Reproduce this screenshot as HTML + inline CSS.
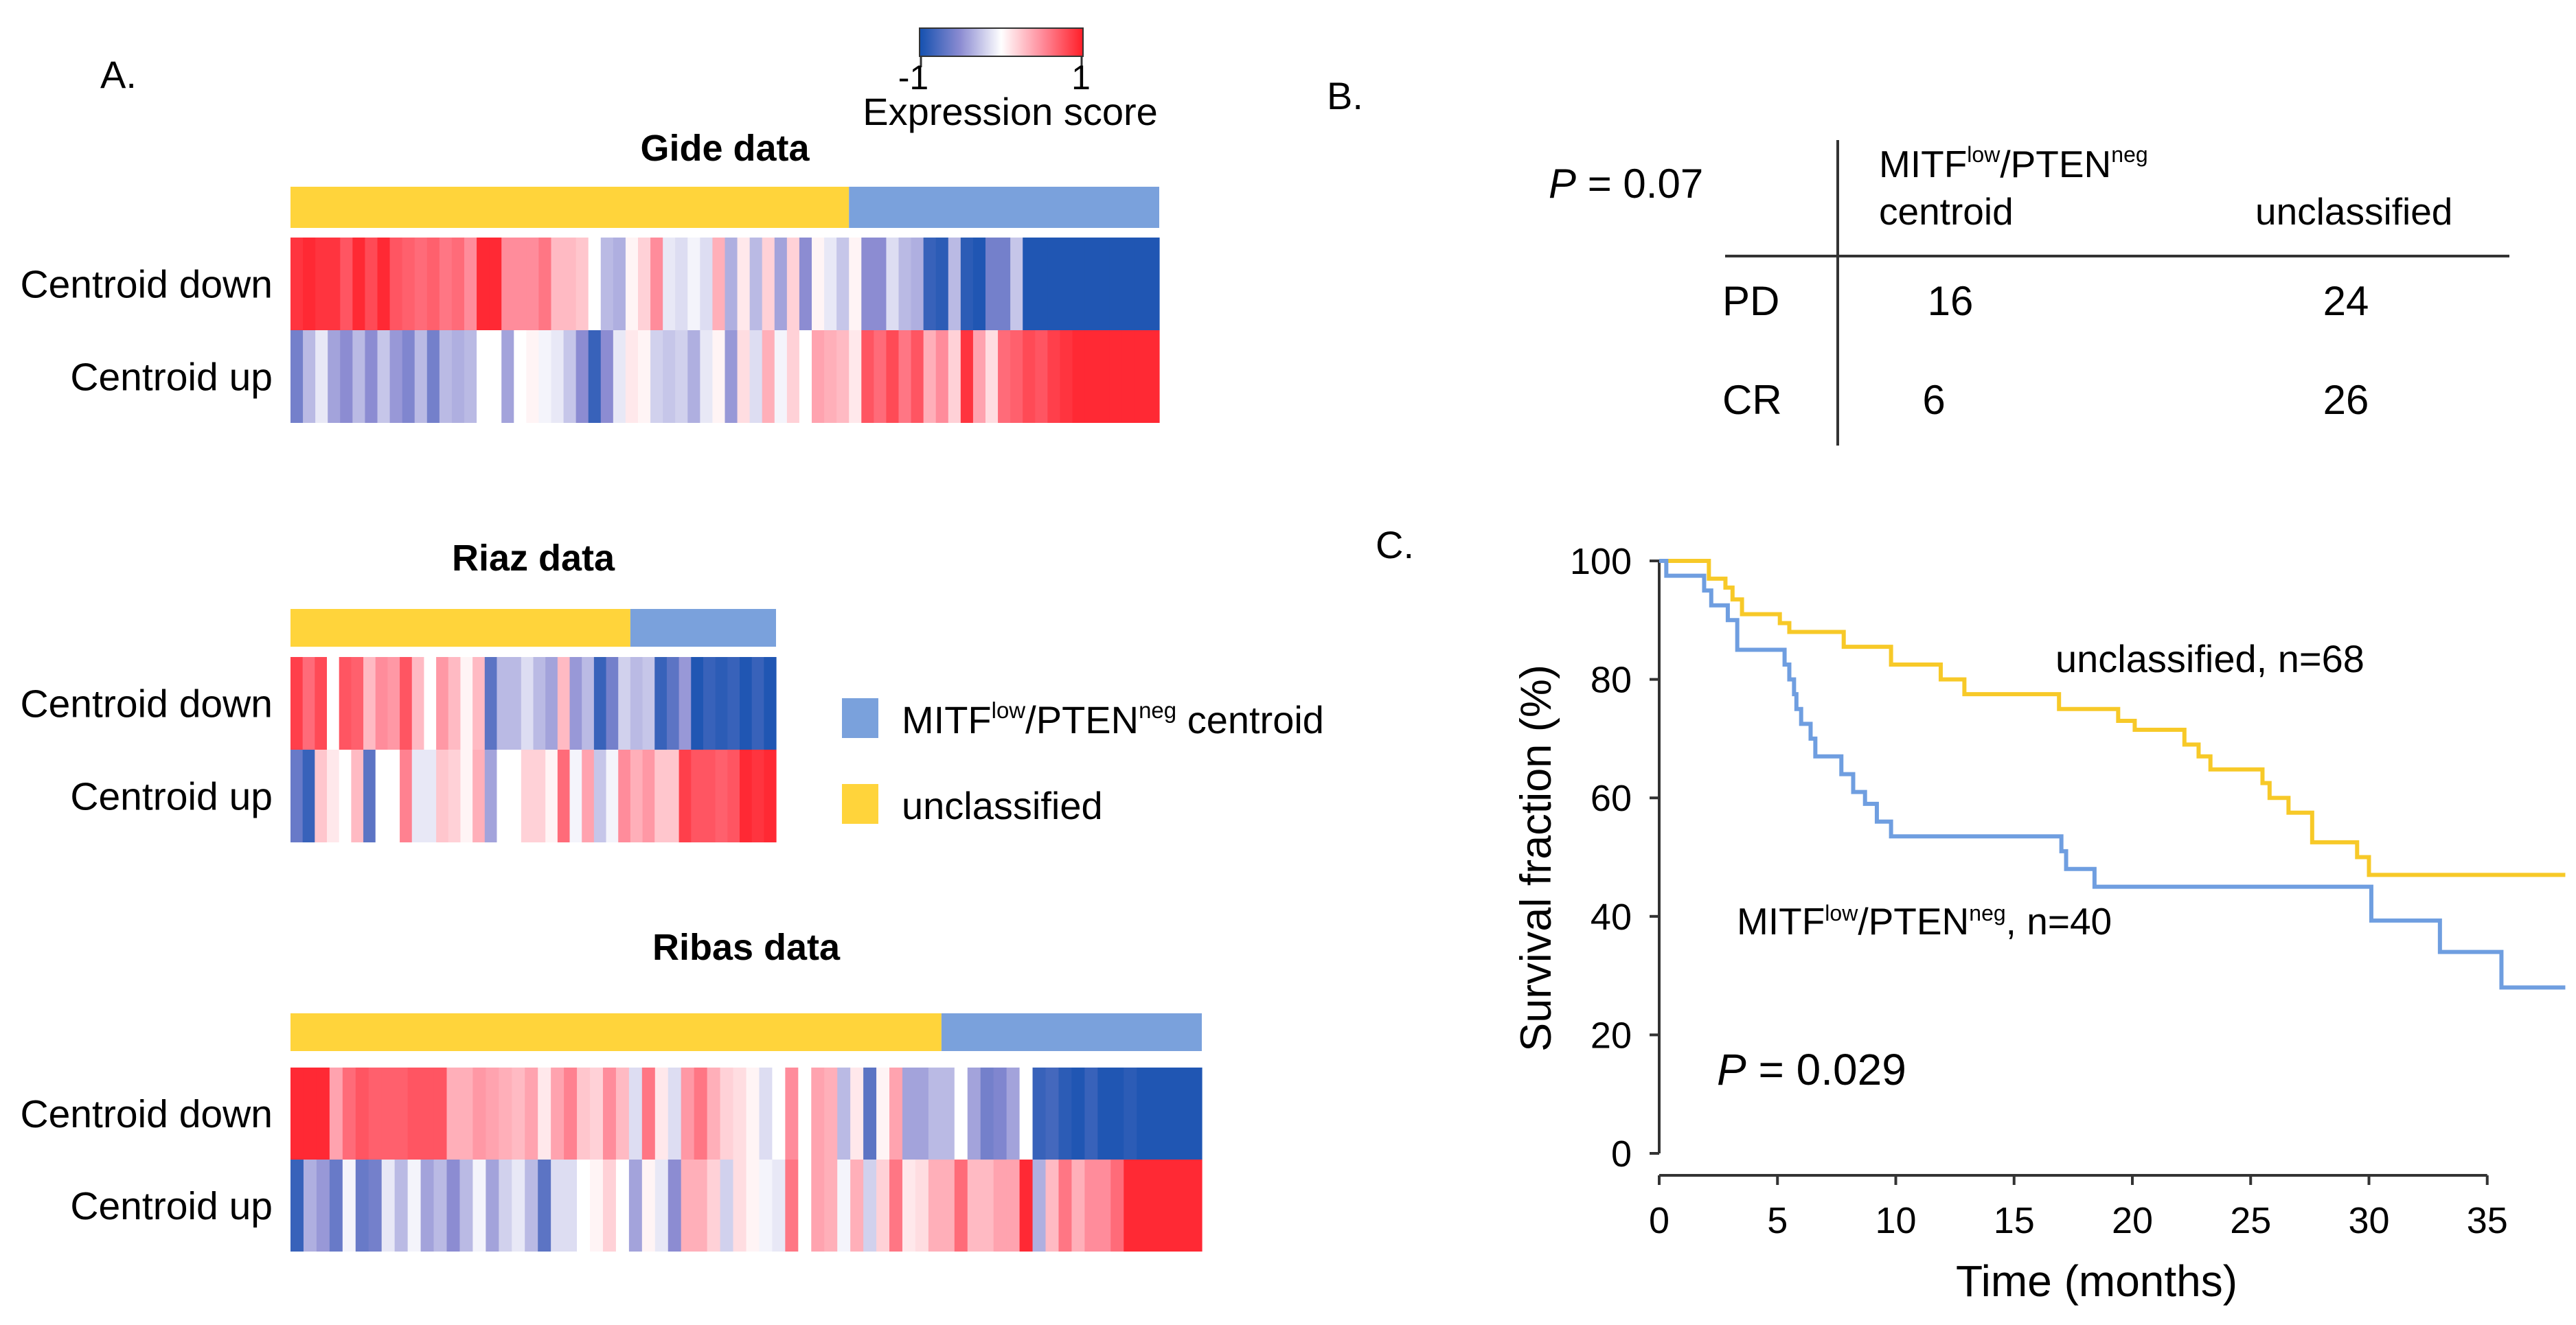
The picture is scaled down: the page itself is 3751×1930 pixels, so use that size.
<!DOCTYPE html>
<html><head><meta charset="utf-8"><style>
html,body{margin:0;padding:0;background:#fff}
svg{display:block;font-family:"Liberation Sans",Arial,sans-serif}
</style></head><body>
<svg id="fig" width="3751" height="1930" viewBox="0 0 3751 1930" xmlns="http://www.w3.org/2000/svg">
<defs>
<linearGradient id="cbar" x1="0" x2="1" y1="0" y2="0">
<stop offset="0" stop-color="rgb(20,80,175)"/><stop offset="0.25" stop-color="rgb(140,140,210)"/><stop offset="0.5" stop-color="#fff"/><stop offset="0.75" stop-color="rgb(255,140,155)"/><stop offset="1" stop-color="rgb(255,30,40)"/>
</linearGradient>
</defs>
<text x="146" y="128" font-size="56">A.</text>
<rect x="1339" y="41" width="238" height="41" fill="url(#cbar)" stroke="#333" stroke-width="2"/>
<line x1="1341" y1="82" x2="1341" y2="98" stroke="#333" stroke-width="3"/>
<line x1="1575" y1="82" x2="1575" y2="98" stroke="#333" stroke-width="3"/>
<text x="1330" y="130" font-size="50" text-anchor="middle">-1</text>
<text x="1574" y="130" font-size="50" text-anchor="middle">1</text>
<text x="1471" y="182" font-size="56" text-anchor="middle">Expression score</text>
<g id="heatmaps"></g>
<g>
<rect x="1226" y="1017" width="53" height="58" fill="#7aa1dc"/>
<text x="1313" y="1068" font-size="56">MITF<tspan font-size="33" dy="-22">low</tspan><tspan dy="22">/PTEN</tspan><tspan font-size="33" dy="-22">neg</tspan><tspan dy="22"> centroid</tspan></text>
<rect x="1226" y="1142" width="53" height="58" fill="#ffd43b"/>
<text x="1313" y="1193" font-size="56">unclassified</text>
</g>
<text x="1932" y="159" font-size="56">B.</text>
<g font-size="60">
<text x="2255" y="288"><tspan font-style="italic">P</tspan> = 0.07</text>
<line x1="2676" y1="204" x2="2676" y2="649" stroke="#333" stroke-width="4"/>
<line x1="2512" y1="373" x2="3654" y2="373" stroke="#333" stroke-width="4"/>
<text x="2736" y="258" font-size="55">MITF<tspan font-size="32" dy="-22">low</tspan><tspan dy="22">/PTEN</tspan><tspan font-size="32" dy="-22">neg</tspan></text>
<text x="2736" y="327" font-size="55">centroid</text>
<text x="3284" y="327" font-size="55">unclassified</text>
<text x="2508" y="459">PD</text>
<text x="2840" y="459" text-anchor="middle">16</text>
<text x="3416" y="459" text-anchor="middle">24</text>
<text x="2508" y="603">CR</text>
<text x="2816" y="603" text-anchor="middle">6</text>
<text x="3416" y="603" text-anchor="middle">26</text>
</g>
<text x="2003" y="813" font-size="56">C.</text>
<g id="km"></g>
</svg>
<script>
// ---------- Heatmap data ----------
const gideDown=[0.9,0.95,0.9,0.9,0.75,0.95,0.8,0.95,0.75,0.7,0.65,0.7,0.6,0.65,0.5,0.95,0.95,0.5,0.5,0.5,0.6,0.3,0.3,0.25,0,-0.3,-0.35,0.05,0.2,0.5,-0.1,-0.15,-0.05,-0.15,0.35,-0.35,0.1,-0.3,0.2,-0.4,0.2,-0.5,0.05,-0.1,-0.25,0.05,-0.5,-0.5,-0.15,-0.3,-0.35,-0.85,-0.9,-0.3,-0.9,-0.95,-0.6,-0.6,-0.25,-0.95,-0.95,-0.95,-0.95,-0.95,-0.95,-0.95,-0.95,-0.95,-0.95,-0.95];
const gideUp=[-0.6,-0.3,-0.1,-0.4,-0.5,-0.3,-0.5,-0.25,-0.45,-0.55,-0.3,-0.6,-0.3,-0.35,-0.3,0,0,-0.4,0,0.05,-0.05,-0.1,-0.25,-0.5,-0.85,-0.5,-0.1,0.1,0.05,-0.2,-0.25,-0.2,-0.35,-0.1,0.05,-0.45,0.15,-0.15,0.35,-0.05,0.2,0,0.4,0.35,0.3,0.1,0.75,0.65,0.8,0.6,0.75,0.35,0.5,0.2,0.9,0.4,0.15,0.65,0.7,0.8,0.75,0.85,0.9,0.95,0.95,0.95,0.95,0.95,0.95,0.95];
const gideUnclassified=45;
const riazDown=[0.85,0.65,0.8,0,0.75,0.7,0.3,0.5,0.45,0.75,0.3,0,0.45,0.3,0.05,0.3,-0.7,-0.3,-0.3,-0.15,-0.3,-0.4,0.3,-0.45,-0.3,-0.85,-0.6,-0.2,-0.3,-0.25,-0.85,-0.7,-0.45,-0.95,-0.85,-0.9,-0.85,-0.95,-0.85,-0.95];
const riazUp=[-0.65,-0.85,0.25,0.1,0,0.3,-0.7,0,0,0.55,-0.1,-0.1,0.25,0.2,0.05,0.35,-0.4,0,0,0.2,0.2,0.05,0.65,-0.05,0.4,-0.25,-0.05,0.5,0.35,0.45,0.25,0.25,0.85,0.75,0.75,0.7,0.75,0.95,0.9,0.95];
const riazUnclassified=28;
const ribasDown=[0.95,0.95,0.95,0.4,0.65,0.75,0.7,0.7,0.7,0.75,0.75,0.75,0.35,0.35,0.45,0.4,0.35,0.3,0.4,0.1,0.4,0.55,0.25,0.2,0.5,0.3,-0.15,0.6,0.1,-0.15,0.45,0.6,0.35,0.2,0.15,0.05,-0.15,0,0.5,0,0.4,0.35,-0.3,0.1,-0.7,0.05,0.4,-0.4,-0.4,-0.3,-0.3,0,-0.4,-0.6,-0.55,-0.4,0,-0.85,-0.8,-0.9,-0.95,-0.85,-0.95,-0.95,-0.9,-0.95,-0.95,-0.95,-0.95,-0.95];
const ribasUp=[-0.85,-0.35,-0.45,-0.65,-0.05,-0.65,-0.6,-0.1,-0.3,-0.05,-0.4,-0.3,-0.5,-0.3,-0.05,-0.4,-0.2,-0.1,-0.3,-0.7,-0.15,-0.15,0,0.05,0.2,0,-0.4,0.05,-0.1,-0.5,0.35,0.35,0.2,-0.2,0.15,0.05,-0.05,-0.1,0.6,0,0.4,0.35,-0.05,0.35,-0.2,0.2,0.6,0.1,0.15,0.35,0.35,0.65,0.3,0.3,0.4,0.4,0.95,-0.35,0.3,0.6,0.35,0.5,0.5,0.65,0.95,0.95,0.95,0.95,0.95,0.95];
const ribasUnclassified=50;
const rowLabels=["Centroid down","Centroid up"];

// ---------- Survival data ----------
const xTicks=[0,5,10,15,20,25,30,35];
const yTicks=[0,20,40,60,80,100];
const centroidTimes=[0,0.3,1.9,2.2,2.9,3.3,5.3,5.5,5.7,5.8,6.0,6.4,6.6,7.7,8.2,8.7,9.2,9.8,17.0,17.2,18.4,30.1,33.0,35.6,38.3];
const centroidSurv=[100,97.5,95,92.5,90,85,82.5,80,77.5,75,72.5,70,67,64,61,59,56,53.5,51,48,45,39.3,34,28,28];
const unclTimes=[0,2.1,2.8,3.1,3.5,5.1,5.5,7.8,9.8,11.9,12.9,16.9,19.4,20.1,22.2,22.8,23.3,25.5,25.8,26.6,27.6,29.5,30.0,38.3];
const unclSurv=[100,97,95.5,93.5,91,89.5,88,85.5,82.5,80,77.5,75,73,71.5,69,67,64.8,62.5,60,57.5,52.5,50,47,47];

const NS="http://www.w3.org/2000/svg";
function mk(tag,attrs,parent){const e=document.createElementNS(NS,tag);for(const k in attrs)e.setAttribute(k,attrs[k]);parent.appendChild(e);return e;}
function lerp(a,b,t){return a.map((v,i)=>Math.round(v+(b[i]-v)*t));}
function color(v){
  const stops=[[-1,[20,80,175]],[-0.5,[140,140,210]],[0,[255,255,255]],[0.5,[255,140,155]],[1,[255,30,40]]];
  v=Math.max(-1,Math.min(1,v));
  for(let i=0;i<stops.length-1;i++){if(v<=stops[i+1][0]){const t=(v-stops[i][0])/(stops[i+1][0]-stops[i][0]);const c=lerp(stops[i][1],stops[i+1][1],t);return `rgb(${c[0]},${c[1]},${c[2]})`;}}
  return "rgb(255,30,40)";
}
const hm=document.getElementById('heatmaps');
function heatmap(name,title,titleY,x0,x1,barY0,barY1,rowY,rowH,down,up,nUncl){
  const g=mk('g',{},hm);
  
  
  const t=mk('text',{x:(x0+x1)/2,y:titleY,'font-size':54,'font-weight':'bold','text-anchor':'middle'},g);
  
  
  t.textContent=title;
  const n=down.length,w=(x1-x0)/n;
  const xs=i=>x0+i*w;
  const a=mk('rect',{x:x0,y:barY0,width:nUncl*w,height:barY1-barY0,fill:'#ffd43b'},g);
  
  
  const b=mk('rect',{x:xs(nUncl),y:barY0,width:(n-nUncl)*w,height:barY1-barY0,fill:'#7aa1dc'},g);
  
  
  [down,up].forEach((row,r)=>{
    row.forEach((v,i)=>{
      const c=mk('rect',{x:xs(i),y:rowY+r*rowH,width:w+0.6,height:rowH,fill:color(v)},g);
      
      
    });
    const l=mk('text',{x:397,y:rowY+r*rowH+rowH/2+20,'font-size':57,'text-anchor':'end'},g);
    
    
    l.textContent=rowLabels[r];
  });
}
heatmap('gide','Gide data',234,423,1688,272,332,346,135,gideDown,gideUp,gideUnclassified);
heatmap('riaz','Riaz data',831,423,1130,887,942,957,135,riazDown,riazUp,riazUnclassified);
heatmap('ribas','Ribas data',1398,423,1750,1476,1531,1555,134,ribasDown,ribasUp,ribasUnclassified);

// ---------- KM chart ----------
const km=document.getElementById('km');
const X0=2416,PX=34.45,Y0=1680,Y100=817;
const sx=t=>X0+t*PX, sy=p=>Y0+(Y100-Y0)*p/100;
const ya=mk('line',{x1:X0,y1:sy(100),x2:X0,y2:sy(0),stroke:'#333','stroke-width':4},km);


const xa=mk('line',{x1:sx(0),y1:1712,x2:sx(35),y2:1712,stroke:'#333','stroke-width':4},km);


yTicks.forEach(v=>{
  mk('line',{x1:X0-14,y1:sy(v),x2:X0,y2:sy(v),stroke:'#333','stroke-width':4},km);
  const t=mk('text',{x:X0-40,y:sy(v)+19,'font-size':54,'text-anchor':'end'},km);
  
  
  t.textContent=v;
});
xTicks.forEach(v=>{
  mk('line',{x1:sx(v),y1:1712,x2:sx(v),y2:1726,stroke:'#333','stroke-width':4},km);
  const t=mk('text',{x:sx(v),y:1796,'font-size':54,'text-anchor':'middle'},km);
  
  
  t.textContent=v;
});
function stepPath(ts,ss){let d=`M${sx(ts[0])},${sy(ss[0])}`;for(let i=1;i<ts.length;i++){d+=` H${sx(ts[i])} V${sy(ss[i])}`;}return d;}
const pu=mk('path',{d:stepPath(unclTimes,unclSurv),fill:'none',stroke:'#f7c928','stroke-width':6},km);


const pc=mk('path',{d:stepPath(centroidTimes,centroidSurv),fill:'none',stroke:'#6f9ee0','stroke-width':6},km);


const yl=mk('text',{x:0,y:0,'font-size':63,'text-anchor':'middle',transform:'translate(2258,1250) rotate(-90)'},km);


yl.textContent='Survival fraction (%)';
const xl=mk('text',{x:3053,y:1888,'font-size':64,'text-anchor':'middle'},km);


xl.textContent='Time (months)';
const ul=mk('text',{x:2993,y:979,'font-size':56},km);


ul.textContent='unclassified, n=68';
const cl=mk('text',{x:2529,y:1361,'font-size':55},km);


cl.innerHTML='MITF<tspan font-size="32" dy="-20">low</tspan><tspan dy="20">/PTEN</tspan><tspan font-size="32" dy="-20">neg</tspan><tspan dy="20">, n=40</tspan>';
const pv=mk('text',{x:2500,y:1580,'font-size':64},km);


pv.innerHTML='<tspan font-style="italic">P</tspan> = 0.029';
</script>
</body></html>
